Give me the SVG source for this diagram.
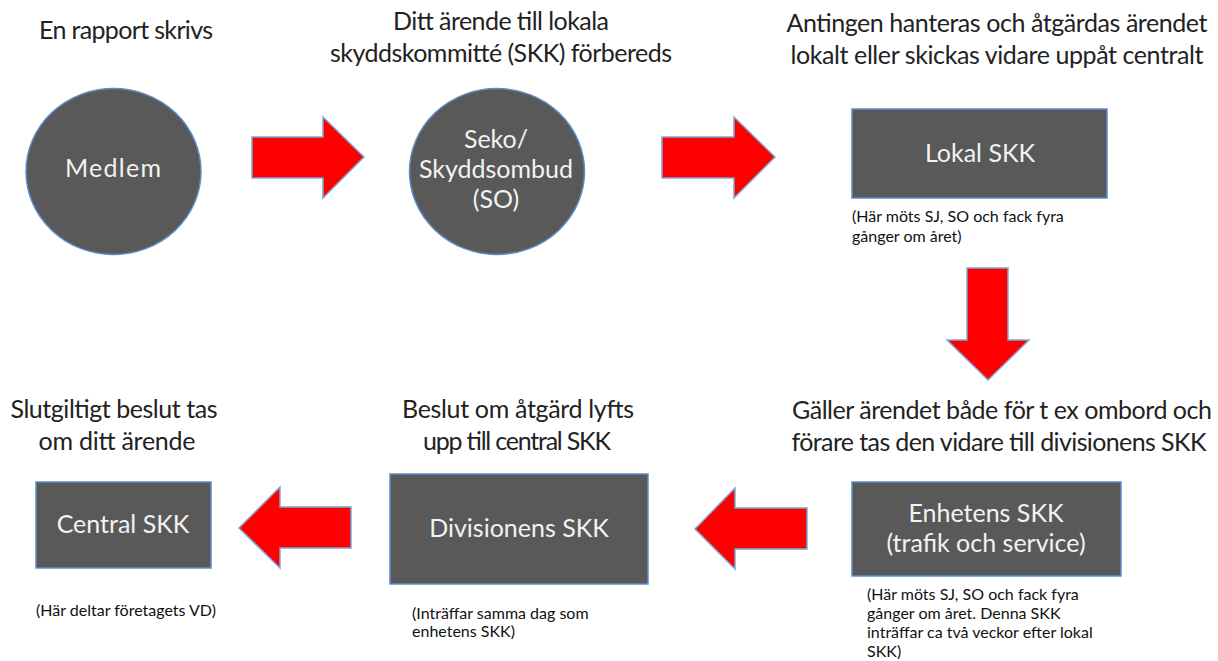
<svg xmlns="http://www.w3.org/2000/svg" width="1218" height="661" viewBox="0 0 1218 661">
<style>
.bg{fill:#ffffff}
.node{fill:#595959;stroke:#5b8fc9;stroke-width:1.5}
.arr{fill:#ff0000;stroke:#7fa6d6;stroke-width:1.5;stroke-linejoin:miter}
.h{font-family:Lato,"Liberation Sans",sans-serif;font-size:25px;fill:#222222;text-anchor:middle}
.t{font-family:Lato,"Liberation Sans",sans-serif;font-size:25px;fill:#f2f2f2;text-anchor:middle}
.n{font-family:Lato,"Liberation Sans",sans-serif;font-size:16px;fill:#111111}
</style>
<rect class="bg" x="0" y="0" width="1218" height="661"/>
<g id="headings">
<text class="h" x="126" y="39" textLength="174">En rapport skrivs</text>
<text class="h" x="501" y="30" textLength="216">Ditt ärende till lokala</text>
<text class="h" x="501" y="62" textLength="342">skyddskommitté (SKK) förbereds</text>
<text class="h" x="997" y="32" textLength="421">Antingen hanteras och åtgärdas ärendet</text>
<text class="h" x="997" y="64" textLength="413">lokalt eller skickas vidare uppåt centralt</text>
<text class="h" x="114" y="418" textLength="207">Slutgiltigt beslut tas</text>
<text class="h" x="117" y="450" textLength="157">om ditt ärende</text>
<text class="h" x="518" y="418" textLength="232">Beslut om åtgärd lyfts</text>
<text class="h" x="517" y="450" textLength="188">upp till central SKK</text>
<text class="h" x="1002" y="419" textLength="420">Gäller ärendet både för t ex ombord och</text>
<text class="h" x="999" y="451" textLength="415">förare tas den vidare till divisionens SKK</text>
</g>
<g id="medlem">
<ellipse class="node" cx="113.5" cy="171.5" rx="87.5" ry="83"/>
<text class="t" x="113" y="177" textLength="96">Medlem</text>
</g>
<g id="seko">
<ellipse class="node" cx="497" cy="171.5" rx="87.5" ry="83"/>
<text class="t" x="496" y="148">Seko/</text>
<text class="t" x="496" y="178">Skyddsombud</text>
<text class="t" x="496" y="208">(SO)</text>
</g>
<g id="lokal">
<rect class="node" x="852" y="109" width="255" height="89"/>
<text class="t" x="980" y="162">Lokal SKK</text>
<text class="n" x="852" y="222">(Här möts SJ, SO och fack fyra</text>
<text class="n" x="852" y="242">gånger om året)</text>
</g>
<g id="enhetens">
<rect class="node" x="852" y="482" width="269" height="94"/>
<text class="t" x="986" y="522">Enhetens SKK</text>
<text class="t" x="986" y="552">(trafik och service)</text>
<text class="n" x="867" y="600">(Här möts SJ, SO och fack fyra</text>
<text class="n" x="867" y="619">gånger om året. Denna SKK</text>
<text class="n" x="867" y="638">inträffar ca två veckor efter lokal</text>
<text class="n" x="867" y="657">SKK)</text>
</g>
<g id="divisionens">
<rect class="node" x="390" y="474" width="258" height="110"/>
<text class="t" x="519" y="537">Divisionens SKK</text>
<text class="n" x="412" y="619">(Inträffar samma dag som</text>
<text class="n" x="412" y="637">enhetens SKK)</text>
</g>
<g id="central">
<rect class="node" x="36" y="482" width="175" height="86"/>
<text class="t" x="123" y="533">Central SKK</text>
<text class="n" x="36" y="616">(Här deltar företagets VD)</text>
</g>
<g id="connectors">
<polygon class="arr" points="252,137 323,137 323,117 364,157 323,198 323,178 252,178"/>
<polygon class="arr" points="662,137 734,137 734,117 775,157 734,198 734,178 662,178"/>
<polygon class="arr" points="967,268 1008,268 1008,340 1029,340 988,380 947,340 967,340"/>
<polygon class="arr" points="807,508 735,508 735,488 695,529 735,569 735,549 807,549"/>
<polygon class="arr" points="351,507 280,507 280,487 239,528 280,568 280,548 351,548"/>
</g>
</svg>
